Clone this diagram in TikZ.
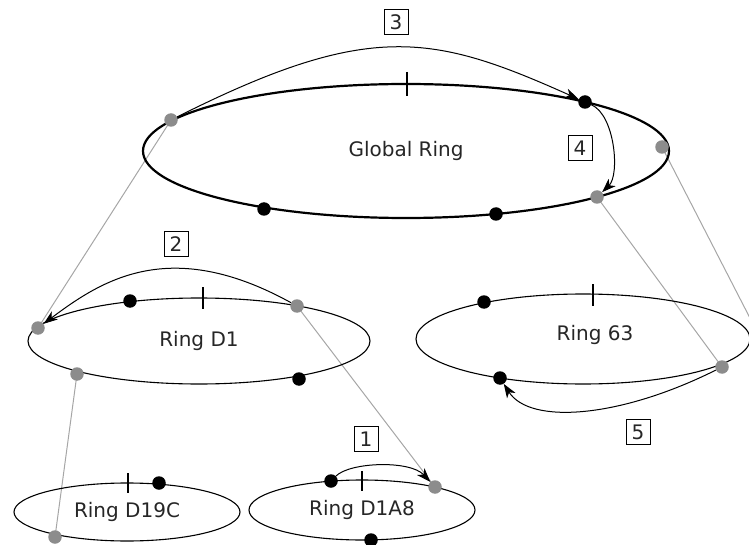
\documentclass[tikz,border=0pt]{standalone}
\usepackage{fontspec}
\setmainfont{DejaVu Sans}
\usetikzlibrary{shapes.geometric,arrows.meta,backgrounds}

\definecolor{dotgray}{HTML}{8C8C8C}
\definecolor{linegray}{HTML}{A6A6A6}

\tikzset{
  ring/.style={ellipse, draw, line width=1.1pt, inner sep=0pt,
    font=\fontsize{20}{23}\selectfont, text=black!85},
  mainring/.style={ring, line width=2.2pt},
  bdot/.style={circle, fill=black, minimum size=13.5pt, inner sep=0pt},
  gdot/.style={circle, fill=dotgray, minimum size=13.5pt, inner sep=0pt},
  link/.style={draw=linegray, line width=1pt},
  hop/.style={draw, line width=1pt, -{Stealth[length=14pt,width=10pt,inset=4pt]}},
  stepno/.style={draw, line width=0.9pt, minimum width=24pt, minimum height=25pt,
    inner sep=0pt, font=\fontsize{20}{22}\selectfont, text=black!85},
  ringtick/.style={line width=1.2pt}
}

\begin{document}
\begin{tikzpicture}[x=1pt,y=-1pt]
\useasboundingbox (0,0) rectangle (749,545);

% rings
\node[mainring, minimum width=526pt, minimum height=134pt] (global) at (406,151) {Global Ring};
\node[ring, minimum width=342pt, minimum height=86pt] (d1) at (199,341) {Ring D1};
\node[ring, minimum width=334pt, minimum height=90pt] (r63) at (583,339) {};
\node[font=\fontsize{20}{23}\selectfont, text=black!85] (r63label) at (595,335) {Ring 63};
\node[ring, minimum width=226pt, minimum height=58pt] (d19c) at (127,512) {Ring D19C};
\node[ring, minimum width=226pt, minimum height=60pt] (d1a8) at (362,510) {Ring D1A8};

% ring start marks
\draw[ringtick] (407,72) -- (407,96);
\draw[ringtick] (203,287) -- (203,309);
\draw[ringtick] (593,284) -- (593,306);
\draw[ringtick] (128,473) -- (128,493);
\draw[ringtick] (362,471) -- (362,491);

% nodes on the global ring
\node[gdot] (g1) at (171,120) {};
\node[bdot] (b1) at (585,102) {};
\node[gdot] (g2) at (662,147) {};
\node[gdot] (g3) at (597,197) {};
\node[bdot] (b2) at (264,209) {};
\node[bdot] (b3) at (496,214) {};

% nodes on ring D1
\node[gdot] (d1gl) at (38,328) {};
\node[bdot] (d1b1) at (130,301) {};
\node[gdot] (d1gr) at (297,306) {};
\node[gdot] (d1gb) at (77,374) {};
\node[bdot] (d1b2) at (299,379) {};

% nodes on ring 63
\node[bdot] (r63b1) at (484,302) {};
\node[gdot] (r63g) at (722,367) {};
\node[bdot] (r63b2) at (500,378) {};
\coordinate (r63end) at (752,322);

% nodes on ring D19C
\node[bdot] (c19b) at (159,483) {};
\node[gdot] (c19g) at (55,537) {};

% nodes on ring D1A8
\node[bdot] (a8b) at (331,481) {};
\node[gdot] (a8g) at (435,487) {};
\node[bdot] (a8bb) at (371,540) {};

% links between the levels
\begin{pgfonlayer}{background}
\draw[link] (g1.center) -- (d1gl.center);
\draw[link] (g2.center) -- (r63end);
\draw[link] (g3.center) -- (r63g.center);
\draw[link] (d1gr.center) -- (a8g.center);
\draw[link] (d1gb.center) -- (c19g.center);
\end{pgfonlayer}

% routing hops
\draw[hop] (a8b) .. controls (350,462) and (410,460) .. (a8g);
\draw[hop] (d1gr) .. controls (170,236) and (102,280) .. (d1gl);
\draw[hop] (g1) .. controls (370,20) and (433,34) .. (b1);
\draw[hop] (b1) .. controls (615,115) and (620,175) .. (g3);
\draw[hop] (r63g) .. controls (620,418) and (530,425) .. (r63b2);

% hop numbers
\node[stepno] (n1) at (366,439) {1};
\node[stepno] (n2) at (176,244) {2};
\node[stepno] (n3) at (396,22) {3};
\node[stepno] (n4) at (580,148) {4};
\node[stepno] (n5) at (638,432) {5};
\end{tikzpicture}
\end{document}
